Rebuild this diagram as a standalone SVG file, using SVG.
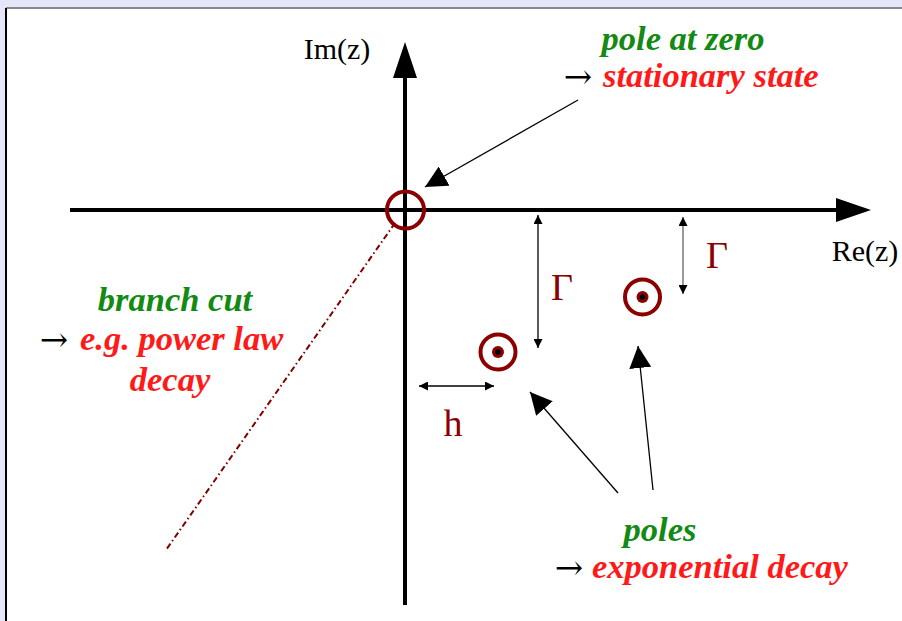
<svg xmlns="http://www.w3.org/2000/svg" width="902" height="621" viewBox="0 0 902 621">
<style>
.ax{stroke:#000;stroke-width:4;fill:none}
.pole{fill:none;stroke:#8b0000;stroke-width:4}
.lbl{font-family:"Liberation Serif","Times New Roman",serif;font-size:30px;fill:#000}
.dr{font-family:"Liberation Serif","Times New Roman",serif;font-size:38px;fill:#8b0000}
.g{font-family:"Liberation Serif","Times New Roman",serif;font-size:34.5px;font-weight:bold;font-style:italic;fill:#138a13}
.r{font-family:"Liberation Serif","Times New Roman",serif;font-size:34.5px;font-weight:bold;font-style:italic;fill:#ff1a1a}
.k{font-family:"DejaVu Serif",serif;font-size:34px;fill:#000}
.thin{stroke:#000;stroke-width:1.3;fill:none}
</style>
<defs>
<marker id="ah" viewBox="0 0 10 10" refX="10" refY="5" markerWidth="9" markerHeight="9" markerUnits="userSpaceOnUse" orient="auto-start-reverse"><path d="M0,0 L10,5 L0,10 z" fill="#000"/></marker>
<marker id="big" viewBox="0 0 10 10" refX="10" refY="5" markerWidth="22" markerHeight="22" markerUnits="userSpaceOnUse" orient="auto"><path d="M0,0 L10,5 L0,10 z" fill="#000"/></marker>
</defs>
<rect x="0" y="0" width="902" height="621" fill="#e6e6fa"/>
<rect x="6" y="8" width="900" height="620" fill="#fff"/>
<line x1="6" y1="8" x2="902" y2="8" stroke="#888" stroke-width="2"/>
<line x1="6" y1="8" x2="6" y2="621" stroke="#000" stroke-width="2"/>
<g id="axes">
<line class="ax" x1="70" y1="210" x2="838" y2="210"/>
<polygon points="836,198 871,210 836,222" fill="#000"/>
<line class="ax" x1="405" y1="605" x2="405" y2="76"/>
<polygon points="393,78 405,42 417,78" fill="#000"/>
<text class="lbl" x="337" y="59" text-anchor="middle">Im(z)</text>
<text class="lbl" x="865" y="261" text-anchor="middle">Re(z)</text>
</g>
<g id="origin-pole"><circle class="pole" cx="405.5" cy="210" r="18.5"/></g>
<g id="pole1"><circle class="pole" cx="498" cy="352" r="17.5"/><circle cx="498" cy="352" r="6" fill="#8b0000"/><circle cx="498" cy="352" r="2.8" fill="#000"/></g>
<g id="pole2"><circle class="pole" cx="642.5" cy="297" r="17.5"/><circle cx="642.5" cy="297" r="6" fill="#8b0000"/><circle cx="642.5" cy="297" r="2.8" fill="#000"/></g>
<g id="branch-cut"><line x1="395" y1="223" x2="166" y2="550" stroke="#800000" stroke-width="2" stroke-dasharray="6,3,1.5,3"/></g>
<g id="connectors">
<line class="thin" x1="538" y1="215" x2="538" y2="348" marker-start="url(#ah)" marker-end="url(#ah)"/>
<line x1="683" y1="217" x2="683" y2="294" stroke="#777" stroke-width="1.5" marker-start="url(#ah)" marker-end="url(#ah)"/>
<line class="thin" x1="419" y1="386" x2="494" y2="386" marker-start="url(#ah)" marker-end="url(#ah)"/>
<line class="thin" x1="578" y1="100" x2="425" y2="187" marker-end="url(#big)"/>
<line class="thin" x1="618" y1="493" x2="530" y2="392" marker-end="url(#big)"/>
<line class="thin" x1="653" y1="490" x2="638" y2="346" marker-end="url(#big)"/>
</g>
<g id="gamma-labels">
<text class="dr" x="562" y="300" text-anchor="middle">Γ</text>
<text class="dr" x="717" y="268" text-anchor="middle">Γ</text>
<text class="dr" x="453" y="436" text-anchor="middle">h</text>
</g>
<g id="pole-zero-label">
<text class="g" x="683" y="50" text-anchor="middle">pole at zero</text>
<text class="k" x="578" y="88" text-anchor="middle">→</text>
<text class="r" x="603" y="87">stationary state</text>
</g>
<g id="branch-label">
<text class="g" x="175" y="311" text-anchor="middle">branch cut</text>
<text class="k" x="54" y="351" text-anchor="middle">→</text>
<text class="r" x="80" y="350">e.g. power law</text>
<text class="r" x="170" y="391" text-anchor="middle">decay</text>
</g>
<g id="poles-label">
<text class="g" x="660" y="541" text-anchor="middle">poles</text>
<text class="k" x="569" y="579" text-anchor="middle">→</text>
<text class="r" x="592" y="578">exponential decay</text>
</g>
</svg>
